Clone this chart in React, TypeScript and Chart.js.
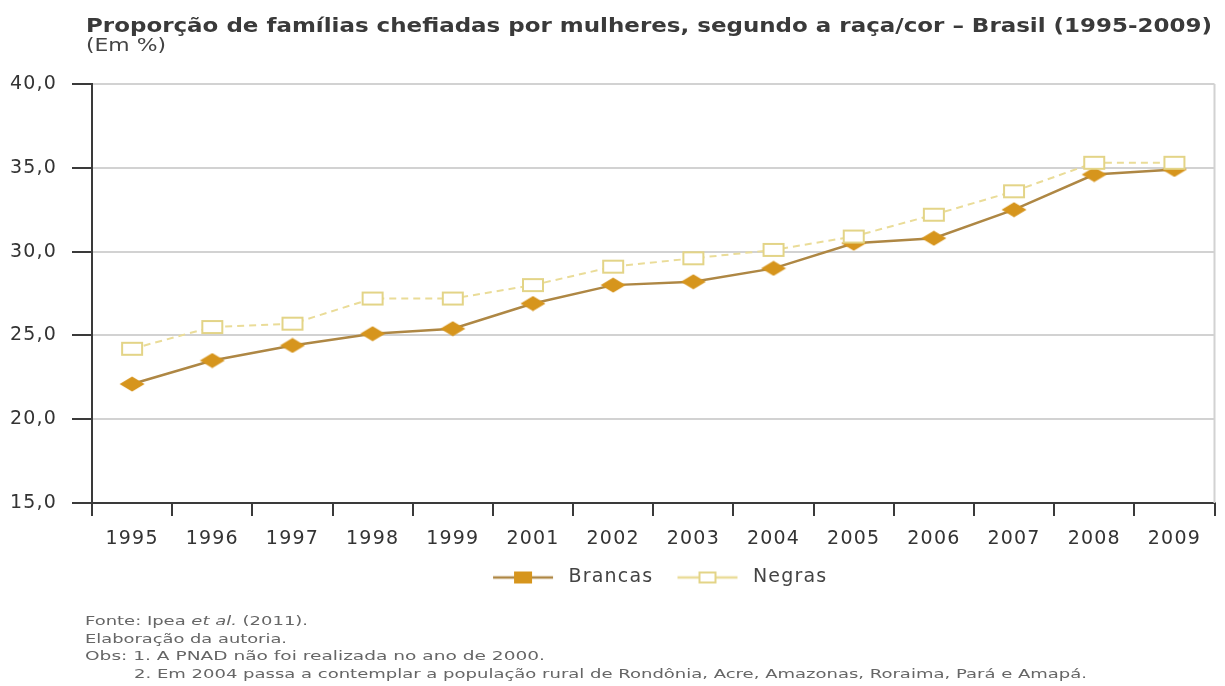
import React, { useEffect, useRef } from 'react';
import { Chart, registerables } from 'chart.js';

Chart.register(...registerables);

const YEARS = ['1995', '1996', '1997', '1998', '1999', '2001', '2002', '2003', '2004', '2005', '2006', '2007', '2008', '2009'];
const BRANCAS = [22.1, 23.5, 24.4, 25.1, 25.4, 26.9, 28.0, 28.2, 29.0, 30.5, 30.8, 32.5, 34.6, 34.9];
const NEGRAS = [24.2, 25.5, 25.7, 27.2, 27.2, 28.0, 29.1, 29.6, 30.1, 30.9, 32.2, 33.6, 35.3, 35.3];
const SERIES_NAMES = ['Brancas', 'Negras'];
const Y_TICKS = [15, 20, 25, 30, 35, 40];

const TITLE = 'Proporção de famílias chefiadas por mulheres, segundo a raça/cor – Brasil (1995-2009)';
const SUBTITLE = '(Em %)';
const NOTE_SOURCE_A = 'Fonte: Ipea ';
const NOTE_SOURCE_B = 'et al.';
const NOTE_SOURCE_C = ' (2011).';
const NOTE_AUTHOR = 'Elaboração da autoria.';
const NOTE_OBS1 = 'Obs: 1. A PNAD não foi realizada no ano de 2000.';
const NOTE_OBS2 = '2. Em 2004 passa a contemplar a população rural de Rondônia, Acre, Amazonas, Roraima, Pará e Amapá.';

const GOLD = '#D6951D';
const GOLD_LINE = '#AE8744';
const PALE = '#E3D487';
const PALE_LINE = '#EADC98';
const FONT = '"DejaVu Sans", "Open Sans", sans-serif';

function scaleFor(text: string, font: string, target: number): number {
  const c = document.createElement('canvas').getContext('2d')!;
  c.font = font;
  const w = c.measureText(text).width;
  return target / w;
}

function makeDiamond(): HTMLCanvasElement {
  const c = document.createElement('canvas');
  c.width = 26; c.height = 16;
  const g = c.getContext('2d')!;
  g.fillStyle = GOLD;
  g.beginPath();
  g.moveTo(13, 0.5); g.lineTo(25.5, 8); g.lineTo(13, 15.5); g.lineTo(0.5, 8);
  g.closePath();
  g.fill();
  return c;
}

function makeSquare(): HTMLCanvasElement {
  const c = document.createElement('canvas');
  c.width = 24; c.height = 16;
  const g = c.getContext('2d')!;
  g.fillStyle = '#ffffff';
  g.fillRect(1, 1, 22, 14);
  g.strokeStyle = PALE;
  g.lineWidth = 2;
  g.strokeRect(2, 2, 20, 12);
  return c;
}

function makeLegendIcon(filled: boolean): HTMLCanvasElement {
  const c = document.createElement('canvas');
  c.width = 80; c.height = 16;
  const g = c.getContext('2d')!;
  g.strokeStyle = filled ? GOLD_LINE : PALE_LINE;
  g.lineWidth = 2.5;
  g.beginPath(); g.moveTo(14, 8); g.lineTo(74, 8); g.stroke();
  if (filled) {
    g.fillStyle = GOLD;
    g.fillRect(35, 2, 18, 12);
  } else {
    g.fillStyle = '#fff';
    g.fillRect(35, 2, 18, 12);
    g.strokeStyle = PALE;
    g.lineWidth = 2;
    g.strokeRect(36, 3, 16, 10);
  }
  return c;
}

const spacingPlugin = {
  id: 'letterSpacing',
  beforeUpdate(chart: any) { chart.ctx.letterSpacing = '1.2px'; },
  beforeDraw(chart: any) { chart.ctx.letterSpacing = '1.2px'; },
};

const framePlugin = {
  id: 'rightFrame',
  beforeDatasetsDraw(chart: any) {
    const { ctx, chartArea } = chart;
    ctx.save();
    ctx.strokeStyle = '#d2d2d2';
    ctx.lineWidth = 2;
    ctx.beginPath();
    ctx.moveTo(chartArea.right, chartArea.top);
    ctx.lineTo(chartArea.right, chartArea.bottom);
    ctx.stroke();
    ctx.restore();
  },
};

export default function App() {
  const ref = useRef<HTMLCanvasElement | null>(null);

  useEffect(() => {
    const canvas = ref.current;
    if (!canvas) return;
    const diamond = makeDiamond();
    const square = makeSquare();
    const icons = [makeLegendIcon(true), makeLegendIcon(false)];

    const chart = new Chart(canvas, {
      type: 'line',
      data: {
        labels: YEARS,
        datasets: [
          {
            label: SERIES_NAMES[0],
            data: BRANCAS,
            borderColor: GOLD_LINE,
            borderWidth: 2.5,
            pointStyle: diamond as any,
            pointRadius: 8,
            backgroundColor: GOLD,
            tension: 0,
            order: 1,
          },
          {
            label: SERIES_NAMES[1],
            data: NEGRAS,
            borderColor: PALE_LINE,
            borderWidth: 2,
            borderDash: [7, 5],
            pointStyle: square as any,
            pointRadius: 8,
            backgroundColor: '#fff',
            tension: 0,
            order: 0,
          },
        ],
      },
      options: {
        responsive: false,
        animation: false,
        devicePixelRatio: 1,
        layout: { padding: { top: 84, left: 0, right: 10, bottom: 89 } },
        scales: {
          x: {
            type: 'category',
            offset: true,
            afterFit: (s: any) => { s.height = 55; },
            border: { display: true, color: '#3a3a3a', width: 2 },
            grid: {
              display: true,
              offset: true,
              drawOnChartArea: false,
              drawTicks: true,
              tickLength: 13,
              tickColor: '#3a3a3a',
              lineWidth: 2,
            },
            ticks: {
              color: '#333',
              padding: 12,
              maxRotation: 0,
              autoSkip: false,
              font: { family: FONT, size: 19 },
            },
          },
          y: {
            min: 15,
            max: 40,
            afterFit: (s: any) => { s.width = 92; },
            afterBuildTicks: (s: any) => { s.ticks = Y_TICKS.map((v) => ({ value: v })); },
            border: { display: true, color: '#3a3a3a', width: 2 },
            grid: {
              color: '#d2d2d2',
              lineWidth: 2,
              drawTicks: true,
              tickLength: 20,
              tickColor: '#3a3a3a',
              tickWidth: 2,
            },
            ticks: {
              color: '#333',
              padding: 15,
              font: { family: FONT, size: 19 },
              callback: (v: any) => Number(v).toFixed(1).replace('.', ','),
            },
          },
        },
        plugins: {
          title: { display: false },
          tooltip: { enabled: false },
          legend: {
            position: 'bottom',
            fullSize: false,
            labels: {
              usePointStyle: true,
              pointStyleWidth: 80,
              padding: 10,
              color: '#444',
              font: { family: FONT, size: 19 },
              generateLabels: () =>
                SERIES_NAMES.map((name, i) => ({
                  text: name,
                  pointStyle: icons[i] as any,
                  fillStyle: 'transparent',
                  strokeStyle: 'transparent',
                  lineWidth: 0,
                  hidden: false,
                  datasetIndex: i,
                  fontColor: '#444',
                })),
            },
          },
        },
      },
      plugins: [spacingPlugin, framePlugin],
    } as any);

    return () => chart.destroy();
  }, []);

  const titleFont = `bold 19px ${FONT}`;
  const subFont = `17px ${FONT}`;
  const noteFont = `13px ${FONT}`;
  const srcText = NOTE_SOURCE_A + NOTE_SOURCE_B + NOTE_SOURCE_C;

  const textStyle = (top: number, left: number, font: string, lh: number, color: string, sx: number): React.CSSProperties => ({
    position: 'absolute', left, top, font, lineHeight: `${lh}px`, color,
    whiteSpace: 'nowrap', transform: `scaleX(${sx})`, transformOrigin: 'left top',
  });

  return (
    <div style={{ position: 'fixed', left: 0, top: 0, width: 1225, height: 686, background: '#fff', overflow: 'hidden' }}>
      <canvas ref={ref} width={1225} height={686} style={{ position: 'absolute', left: 0, top: 0, display: 'block' }} />
      <div style={textStyle(14, 86, titleFont, 22, '#3a3a3a', scaleFor(TITLE, titleFont, 1126))}>{TITLE}</div>
      <div style={textStyle(35, 86, subFont, 20, '#444', scaleFor(SUBTITLE, subFont, 80))}>{SUBTITLE}</div>
      <div style={textStyle(613, 85, noteFont, 16, '#666', scaleFor(srcText, noteFont, 223))}>{NOTE_SOURCE_A}<i>{NOTE_SOURCE_B}</i>{NOTE_SOURCE_C}</div>
      <div style={textStyle(631, 85, noteFont, 16, '#666', scaleFor(NOTE_AUTHOR, noteFont, 202))}>{NOTE_AUTHOR}</div>
      <div style={textStyle(648, 85, noteFont, 16, '#666', scaleFor(NOTE_OBS1, noteFont, 460))}>{NOTE_OBS1}</div>
      <div style={textStyle(666, 134, noteFont, 16, '#666', scaleFor(NOTE_OBS2, noteFont, 953))}>{NOTE_OBS2}</div>
    </div>
  );
}
